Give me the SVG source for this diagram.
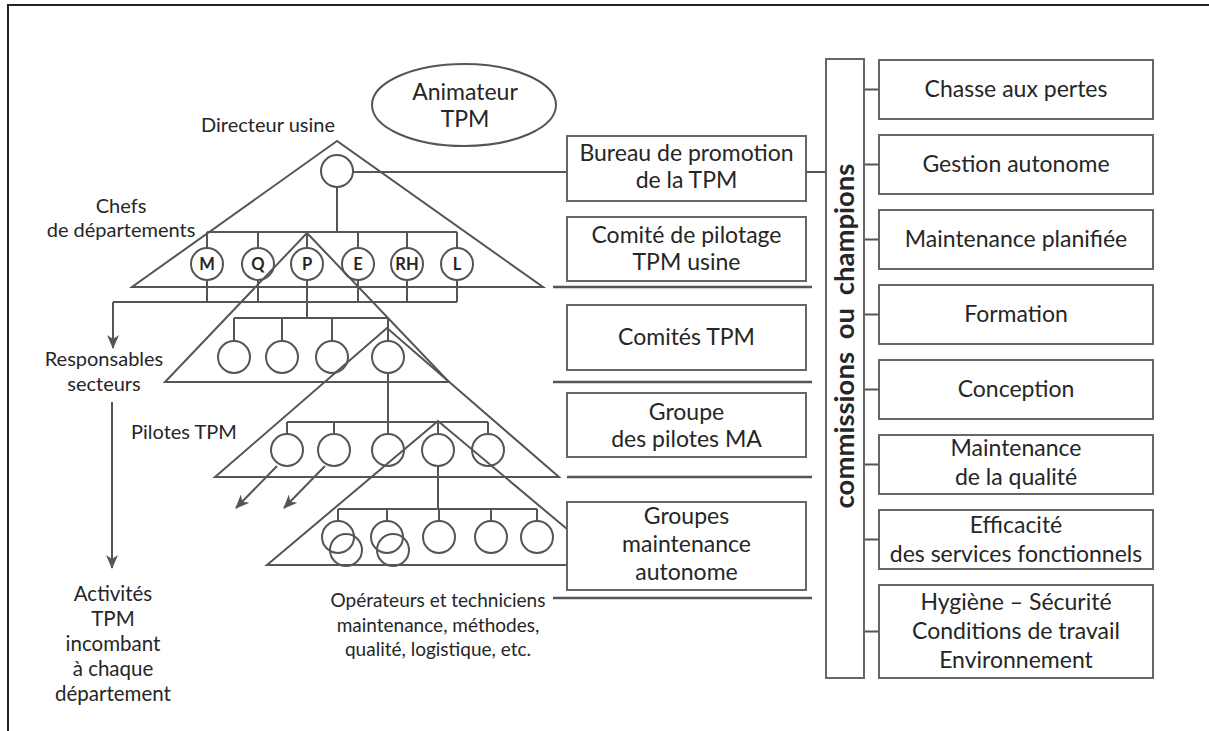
<svg xmlns="http://www.w3.org/2000/svg" width="1209" height="731" viewBox="0 0 1209 731">
<style>
.ln{stroke:#555;stroke-width:2;fill:none}
.sep{stroke:#555;stroke-width:2.6;fill:none}
.bx{stroke:#666;stroke-width:2;fill:#fff}
.t{font-family:Lato,"Open Sans",sans-serif;font-size:23px;fill:#262626;text-anchor:middle}
.l{font-size:20px}
.s{font-size:19px}
.a{font-size:20.5px}
.c{font-family:Lato,"Open Sans",sans-serif;font-size:16.5px;font-weight:bold;fill:#262626;text-anchor:middle}
.v{font-family:Lato,"Open Sans",sans-serif;font-size:27.5px;font-weight:bold;fill:#262626;text-anchor:middle;word-spacing:6px}
</style>
<defs>
<marker id="ah" markerUnits="userSpaceOnUse" markerWidth="14" markerHeight="12" refX="13" refY="6" orient="auto">
<path d="M0,0 L14,6 L0,12 L4,6 Z" fill="#555"/>
</marker>
</defs>
<rect width="1209" height="731" fill="#fff"/>
<g id="frame">
<path d="M8,731 V5 H1209" stroke="#222" stroke-width="2" fill="none"/>
</g>

<g id="connectors">
<line class="ln" x1="337" y1="187" x2="337" y2="232"/>
<line class="ln" x1="207" y1="232" x2="457" y2="232"/>
<path class="ln" d="M207,232V248M258,232V248M307,232V248M358,232V248M407,232V248M457,232V248"/>
<path class="ln" d="M207,280V302M258,280V302M358,280V302M407,280V302M457,280V302M307,280V318"/>
<line class="ln" x1="457" y1="302" x2="113" y2="302"/>
<line class="ln" x1="113" y1="302" x2="113" y2="348" marker-end="url(#ah)"/>
<line class="ln" x1="234" y1="318" x2="388" y2="318"/>
<path class="ln" d="M234,318V341M282,318V341M332,318V341M388,318V341"/>
<line class="ln" x1="388" y1="373" x2="388" y2="434"/>
<line class="ln" x1="287" y1="422" x2="488" y2="422"/>
<path class="ln" d="M287,422V434M334,422V434M438,422V434M488,422V434"/>
<line class="ln" x1="438" y1="466" x2="438" y2="509"/>
<line class="ln" x1="338" y1="509" x2="537" y2="509"/>
<path class="ln" d="M338,509V521M387,509V521M439,509V521M491,509V521M537,509V521"/>
<line class="ln" x1="277" y1="466" x2="236" y2="508" marker-end="url(#ah)"/>
<line class="ln" x1="325" y1="466" x2="284" y2="508" marker-end="url(#ah)"/>
<line class="ln" x1="112" y1="402" x2="112" y2="568" marker-end="url(#ah)"/>
<line class="ln" x1="353" y1="172" x2="567" y2="172"/>
<line class="ln" x1="806" y1="172" x2="826" y2="172"/>
<path class="ln" d="M864,89.5H879M864,164.5H879M864,239.5H879M864,314.5H879M864,389.5H879M864,464.5H879M864,539.5H879M864,631.5H879"/>
<line class="sep" x1="553" y1="287" x2="812" y2="287"/>
<line class="sep" x1="553" y1="382" x2="812" y2="382"/>
<line class="sep" x1="567" y1="477" x2="812" y2="477"/>
<line class="sep" x1="553" y1="598" x2="812" y2="598"/>
</g>

<g id="level1">
<polygon class="ln" points="337,141 132,287 543,287"/>
<circle class="ln" cx="337" cy="171" r="16"/>
<text class="t l" x="268" y="132">Directeur usine</text>
</g>
<g id="level2">
<circle class="ln" cx="207" cy="264" r="16"/>
<circle class="ln" cx="258" cy="264" r="16"/>
<circle class="ln" cx="307" cy="264" r="16"/>
<circle class="ln" cx="358" cy="264" r="16"/>
<circle class="ln" cx="407" cy="264" r="16"/>
<circle class="ln" cx="457" cy="264" r="16"/>
<text class="c" x="207" y="270">M</text>
<text class="c" x="258" y="270">Q</text>
<text class="c" x="307" y="270">P</text>
<text class="c" x="358" y="270">E</text>
<text class="c" x="407" y="270">RH</text>
<text class="c" x="457" y="270">L</text>
<text class="t l" x="121" y="213">Chefs</text>
<text class="t l" x="121" y="237">de départements</text>
</g>
<g id="level3">
<polygon class="ln" points="307,233 165,382 449,382"/>
<circle class="ln" cx="234" cy="357" r="16"/>
<circle class="ln" cx="282" cy="357" r="16"/>
<circle class="ln" cx="332" cy="357" r="16"/>
<circle class="ln" cx="388" cy="357" r="16"/>
<text class="t l" x="104" y="366">Responsables</text>
<text class="t l" x="104" y="391">secteurs</text>
</g>
<g id="level4">
<polygon class="ln" points="387,328 215,477 559,477"/>
<circle class="ln" cx="287" cy="450" r="16"/>
<circle class="ln" cx="334" cy="450" r="16"/>
<circle class="ln" cx="388" cy="450" r="16"/>
<circle class="ln" cx="438" cy="450" r="16"/>
<circle class="ln" cx="488" cy="450" r="16"/>
<text class="t l" x="184" y="439">Pilotes TPM</text>
</g>
<g id="level5">
<polygon class="ln" points="438,421 267,565 610,565"/>
<circle class="ln" cx="338" cy="537" r="16"/>
<circle class="ln" cx="387" cy="537" r="16"/>
<circle class="ln" cx="439" cy="537" r="16"/>
<circle class="ln" cx="491" cy="537" r="16"/>
<circle class="ln" cx="537" cy="537" r="16"/>
<circle class="ln" cx="346" cy="550" r="16"/>
<circle class="ln" cx="393" cy="550" r="16"/>
<text class="t s" x="438" y="607">Opérateurs et techniciens</text>
<text class="t s" x="438" y="632">maintenance, méthodes,</text>
<text class="t s" x="438" y="656">qualité, logistique, etc.</text>
</g>
<g id="activites">
<text class="t a" x="113" y="601">Activités</text>
<text class="t a" x="113" y="626">TPM</text>
<text class="t a" x="113" y="651">incombant</text>
<text class="t a" x="113" y="676">à chaque</text>
<text class="t a" x="113" y="701">département</text>
</g>
<g id="animateur">
<ellipse class="ln" cx="464" cy="105" rx="92" ry="41"/>
<text class="t" x="465" y="100">Animateur</text>
<text class="t" x="465" y="127">TPM</text>
</g>

<g id="bureau"><rect class="bx" x="567" y="136" width="239" height="65"/>
<text class="t" x="686.5" y="161">Bureau de promotion</text><text class="t" x="686.5" y="188">de la TPM</text></g>
<g id="comite-pilotage"><rect class="bx" x="567" y="217" width="239" height="64"/>
<text class="t" x="686.5" y="243">Comité de pilotage</text><text class="t" x="686.5" y="270">TPM usine</text></g>
<g id="comites"><rect class="bx" x="567" y="305" width="239" height="65"/>
<text class="t" x="686.5" y="345">Comités TPM</text></g>
<g id="groupe-pilotes"><rect class="bx" x="567" y="393" width="239" height="64"/>
<text class="t" x="686.5" y="420">Groupe</text><text class="t" x="686.5" y="447">des pilotes MA</text></g>
<g id="groupes-ma"><rect class="bx" x="567" y="502" width="239" height="88"/>
<text class="t" x="686.5" y="524">Groupes</text><text class="t" x="686.5" y="552">maintenance</text><text class="t" x="686.5" y="580">autonome</text></g>

<g id="commissions"><rect class="bx" x="826" y="59" width="38" height="619"/>
<text class="v" transform="translate(854,336) rotate(-90)">commissions ou champions</text></g>

<g id="chasse"><rect class="bx" x="879" y="60" width="274" height="59"/><text class="t" x="1016" y="97">Chasse aux pertes</text></g>
<g id="gestion"><rect class="bx" x="879" y="135" width="274" height="59"/><text class="t" x="1016" y="172">Gestion autonome</text></g>
<g id="planifiee"><rect class="bx" x="879" y="210" width="274" height="59"/><text class="t" x="1016" y="247">Maintenance planifiée</text></g>
<g id="formation"><rect class="bx" x="879" y="285" width="274" height="59"/><text class="t" x="1016" y="322">Formation</text></g>
<g id="conception"><rect class="bx" x="879" y="360" width="274" height="59"/><text class="t" x="1016" y="397">Conception</text></g>
<g id="qualite"><rect class="bx" x="879" y="435" width="274" height="59"/><text class="t" x="1016" y="456">Maintenance</text><text class="t" x="1016" y="485">de la qualité</text></g>
<g id="efficacite"><rect class="bx" x="879" y="510" width="274" height="59"/><text class="t" x="1016" y="533">Efficacité</text><text class="t" x="1016" y="562">des services fonctionnels</text></g>
<g id="hygiene"><rect class="bx" x="879" y="585" width="274" height="93"/><text class="t" x="1016" y="610">Hygiène – Sécurité</text><text class="t" x="1016" y="639">Conditions de travail</text><text class="t" x="1016" y="668">Environnement</text></g>
</svg>
